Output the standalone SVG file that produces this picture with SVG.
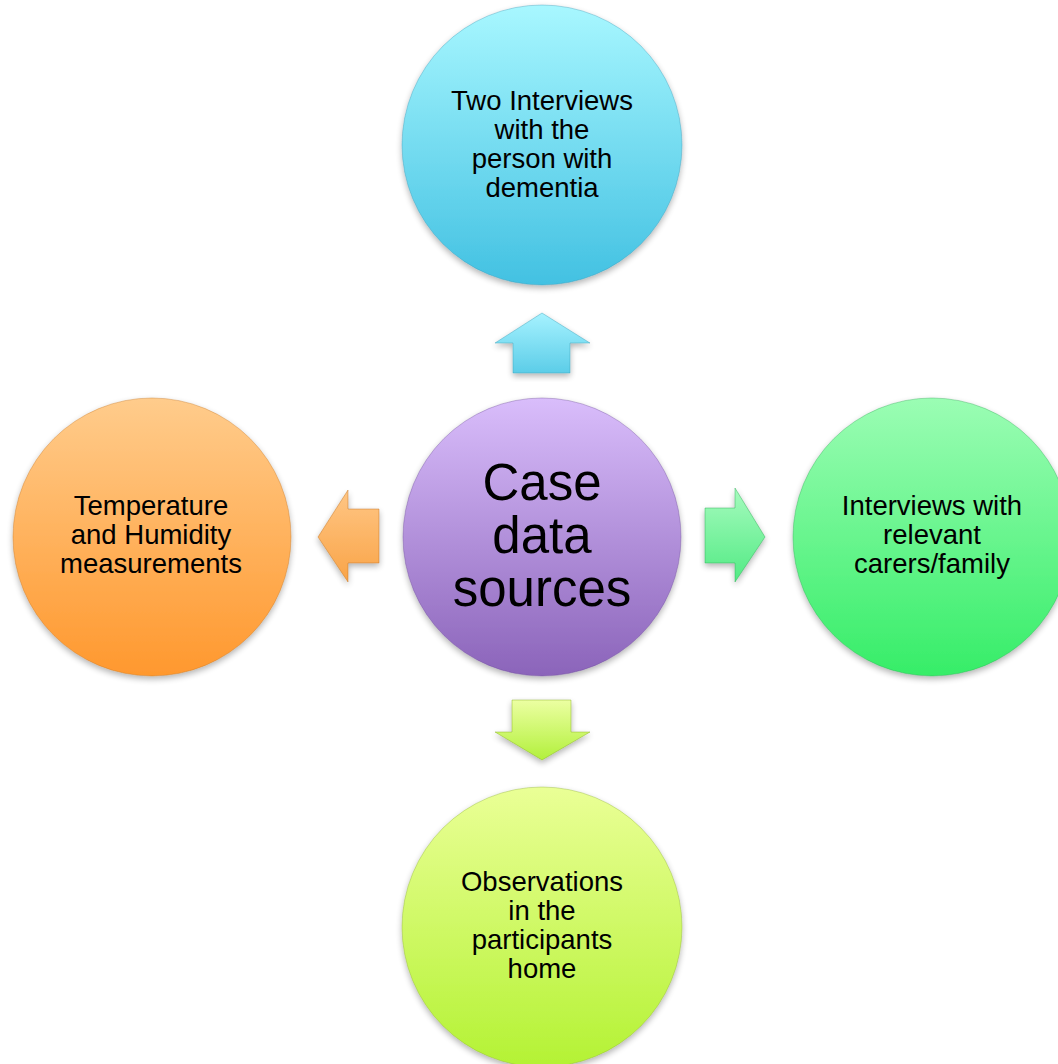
<svg xmlns="http://www.w3.org/2000/svg" width="1058" height="1064" viewBox="0 0 1058 1064">
<style>
text{font-family:"Liberation Sans",Arial,sans-serif;fill:#000;text-anchor:middle}
.s{font-size:27.5px}
.b{font-size:51px}
.c{stroke-width:1;stroke-opacity:0.35}
.a{stroke-width:1;stroke-opacity:0.45;stroke-linejoin:miter}
</style>
<defs>
<filter id="sh" x="-10%" y="-10%" width="120%" height="125%">
<feGaussianBlur in="SourceAlpha" stdDeviation="3"/>
<feOffset dy="3"/>
<feComponentTransfer><feFuncA type="linear" slope="0.3"/></feComponentTransfer>
<feMerge><feMergeNode/><feMergeNode in="SourceGraphic"/></feMerge>
</filter>
<linearGradient id="gT" x1="0" y1="0" x2="0" y2="1"><stop offset="0" stop-color="#a8f7ff"/><stop offset="1" stop-color="#42c1e2"/></linearGradient>
<linearGradient id="gC" x1="0" y1="0" x2="0" y2="1"><stop offset="0" stop-color="#d9bdfb"/><stop offset="1" stop-color="#8b64ba"/></linearGradient>
<linearGradient id="gL" x1="0" y1="0" x2="0" y2="1"><stop offset="0" stop-color="#ffcc8c"/><stop offset="1" stop-color="#ff982e"/></linearGradient>
<linearGradient id="gR" x1="0" y1="0" x2="0" y2="1"><stop offset="0" stop-color="#9bfdb4"/><stop offset="1" stop-color="#36ed68"/></linearGradient>
<linearGradient id="gB" x1="0" y1="0" x2="0" y2="1"><stop offset="0" stop-color="#eaff96"/><stop offset="1" stop-color="#b4f234"/></linearGradient>
<linearGradient id="aU" x1="0" y1="0" x2="0" y2="1"><stop offset="0" stop-color="#a6f2ff"/><stop offset="1" stop-color="#5ccde8"/></linearGradient>
<linearGradient id="aL" x1="0" y1="0" x2="0" y2="1"><stop offset="0" stop-color="#ffc684"/><stop offset="1" stop-color="#f9a448"/></linearGradient>
<linearGradient id="aR" x1="0" y1="0" x2="0" y2="1"><stop offset="0" stop-color="#a6fbbe"/><stop offset="1" stop-color="#52ea84"/></linearGradient>
<linearGradient id="aD" x1="0" y1="0" x2="0" y2="1"><stop offset="0" stop-color="#ecffa2"/><stop offset="1" stop-color="#b2f03c"/></linearGradient>
</defs>
<rect width="1058" height="1064" fill="#ffffff"/>
<g id="connectors">
<path id="arrow-up" class="a" fill="url(#aU)" stroke="#3a9fb8" d="M542,313 L590,343 L570,343 L570,373 L513,373 L513,343 L495,343 Z" filter="url(#sh)"/>
<path id="arrow-left" class="a" fill="url(#aL)" stroke="#c07020" d="M318,537 L348,490 L348,509 L379,509 L379,563 L348,563 L348,582 Z" filter="url(#sh)"/>
<path id="arrow-right" class="a" fill="url(#aR)" stroke="#2aa850" d="M765,537 L735,488 L735,508 L705,508 L705,563 L735,563 L735,582 Z" filter="url(#sh)"/>
<path id="arrow-down" class="a" fill="url(#aD)" stroke="#86b020" d="M542,760 L590,732 L571,732 L571,700 L512,700 L512,732 L495,732 Z" filter="url(#sh)"/>
</g>
<g id="node-top">
<circle class="c" cx="542" cy="145" r="140" fill="url(#gT)" stroke="#2a90b0" filter="url(#sh)"/>
<text class="s" x="542" y="110">Two Interviews</text>
<text class="s" x="542" y="139">with the</text>
<text class="s" x="542" y="168">person with</text>
<text class="s" x="542" y="197">dementia</text>
</g>
<g id="node-center">
<circle class="c" cx="542" cy="537" r="139" fill="url(#gC)" stroke="#604090" filter="url(#sh)"/>
<text class="b" x="542" y="500">Case</text>
<text class="b" x="542" y="553">data</text>
<text class="b" x="542" y="606">sources</text>
</g>
<g id="node-left">
<circle class="c" cx="152" cy="537" r="139" fill="url(#gL)" stroke="#c06a10" filter="url(#sh)"/>
<text class="s" x="151" y="515">Temperature</text>
<text class="s" x="151" y="544">and Humidity</text>
<text class="s" x="151" y="573">measurements</text>
</g>
<g id="node-right">
<circle class="c" cx="932" cy="537" r="139" fill="url(#gR)" stroke="#20a048" filter="url(#sh)"/>
<text class="s" x="932" y="515">Interviews with</text>
<text class="s" x="932" y="544">relevant</text>
<text class="s" x="932" y="573">carers/family</text>
</g>
<g id="node-bottom">
<circle class="c" cx="542" cy="927" r="140" fill="url(#gB)" stroke="#80a820" filter="url(#sh)"/>
<text class="s" x="542" y="891">Observations</text>
<text class="s" x="542" y="920">in the</text>
<text class="s" x="542" y="949">participants</text>
<text class="s" x="542" y="978">home</text>
</g>
</svg>
